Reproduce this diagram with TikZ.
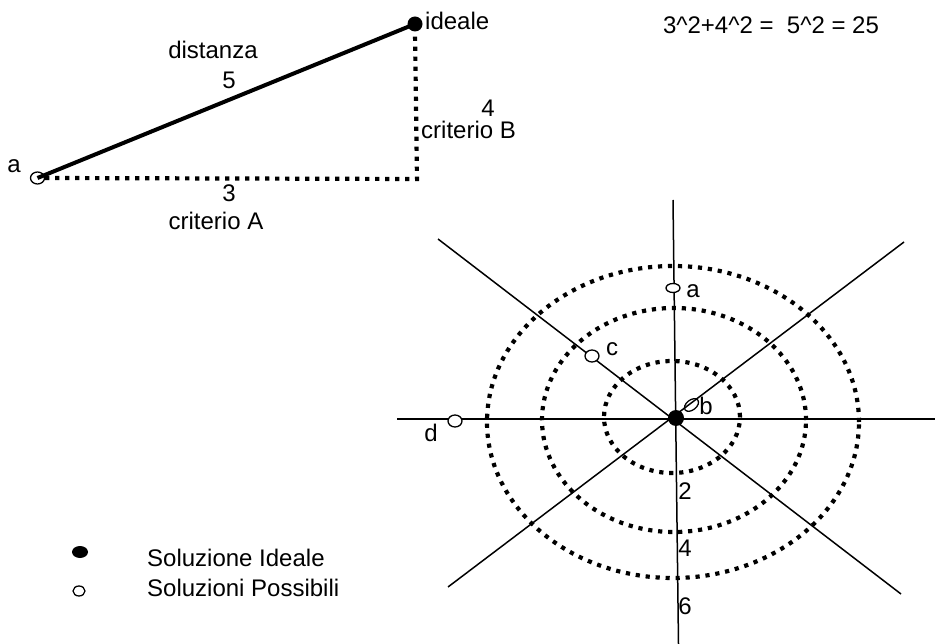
\documentclass[tikz,border=0pt]{standalone}
\usepackage{fontspec}
\setmainfont{Liberation Sans}
\usetikzlibrary{shapes.geometric}
\begin{document}
\begin{tikzpicture}[x=1pt,y=-1pt,
  txt/.style={inner sep=0pt,font=\fontsize{24}{28}\selectfont},
  openpt/.style={ellipse,draw,line width=1.3pt,inner sep=0pt,minimum width=14pt,minimum height=12pt},
  fullpt/.style={circle,fill=black,inner sep=0pt,minimum size=15pt},
  dotring/.style={line width=4.2pt,dash pattern=on 4.2pt off 5.8pt},
  ray/.style={line width=1.5pt},
  tridot/.style={line width=4.2pt,dash pattern=on 4.2pt off 5.8pt}]
\useasboundingbox (0,0) rectangle (935,644);
% ---- top-left triangle
\node[openpt] (pa) at (37.5,178) {};
\node[fullpt] (pid) at (415,24) {};
\coordinate (corner) at (417,179);
\draw[tridot] (pa.east) -- (corner) -- (pid.south);
\draw[line width=4pt] (pa.center) -- (pid.center);
\node[txt] (la) at (14,166) {a};
\node[txt,anchor=west] (lid) at (425,21) {ideale};
\node[txt] (ldist) at (213,50) {distanza};
\node[txt] (l5) at (229,80) {5};
\node[txt] (l4) at (488,108) {4};
\node[txt,anchor=west] (lB) at (421,130) {criterio B};
\node[txt] (l3) at (229,193) {3};
\node[txt] (lA) at (216,221) {criterio A};
\node[txt] (eq) at (771,25) {3\textasciicircum2+4\textasciicircum2 =\ \ 5\textasciicircum2 = 25};
% ---- rings
\draw[dotring] (672,417) ellipse [x radius=68pt, y radius=56pt];
\draw[dotring] (674,420) ellipse [x radius=132pt, y radius=112pt];
\draw[dotring] (673,422) ellipse [x radius=186pt, y radius=156pt];
% ---- rays
\coordinate (vt) at (673,200);
\coordinate (vb) at (678.5,644);
\coordinate (hl) at (397,419);
\coordinate (hr) at (935,419);
\coordinate (d1a) at (438,239);
\coordinate (d1b) at (901,594);
\coordinate (d2a) at (448,587);
\coordinate (d2b) at (904,242);
\draw[ray] (vt) -- (vb);
\draw[ray] (hl) -- (hr);
\draw[ray] (d1a) -- (d1b);
\draw[ray] (d2a) -- (d2b);
\node[fullpt,minimum size=16pt] (ctr) at (676,418) {};
% ---- possible solutions
\node[openpt,minimum width=14pt,minimum height=9pt,fill=white] (sa) at (673,288) {};
\node[openpt,minimum width=16pt,minimum height=10pt,rotate=38] (sb) at (691.5,405) {};
\node[openpt,fill=white] (sc) at (592,356) {};
\node[openpt,fill=white] (sd) at (455,421) {};
\node[txt] (lsa) at (693,291) {a};
\node[txt] (lsb) at (706,406) {b};
\node[txt] (lsc) at (612,349) {c};
\node[txt] (lsd) at (431,433) {d};
\node[txt] (n2) at (685,491) {2};
\node[txt] (n4) at (685,548) {4};
\node[txt] (n6) at (685,606) {6};
% ---- legend
\node[ellipse,fill=black,inner sep=0pt,minimum width=16pt,minimum height=12pt] (lgf) at (80,552) {};
\node[openpt,minimum width=12pt,minimum height=10pt] (lgo) at (79,591) {};
\node[txt,anchor=west] (lg1) at (147,558) {Soluzione Ideale};
\node[txt,anchor=west] (lg2) at (147,588) {Soluzioni Possibili};
\end{tikzpicture}
\end{document}
